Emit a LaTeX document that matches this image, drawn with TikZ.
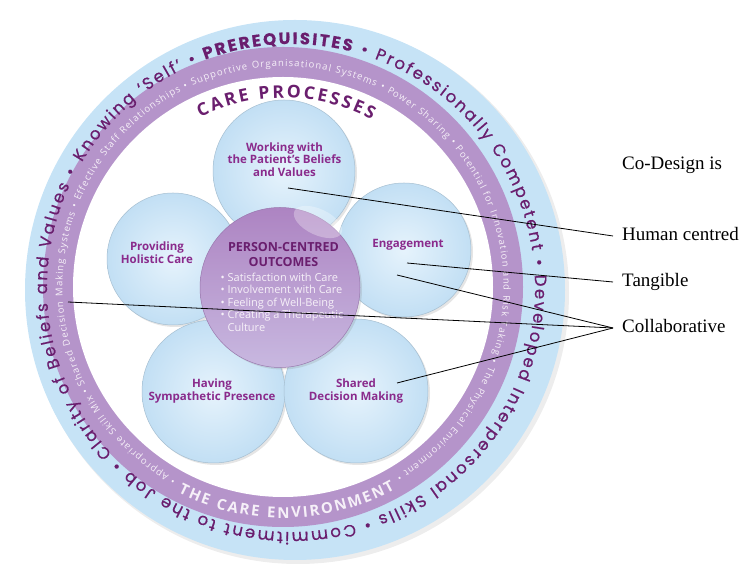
\documentclass[tikz,border=0pt]{standalone}
\usepackage{fontspec}
\setmainfont{Liberation Serif}
\newfontfamily\ringfont[FakeBold=0.6]{Poppins}
\newfontfamily\procfont{Open Sans}
\usepackage{xcolor}
\usepackage{tikz}
\usetikzlibrary{decorations.text, shadows, positioning}

\definecolor{ringblue}{HTML}{C6E3F6}
\definecolor{ringpurple}{HTML}{B594CA}
\definecolor{bubbleblue}{HTML}{C2DFF4}
\definecolor{bubblelight}{HTML}{E6F3FC}
\definecolor{bubbleedge}{HTML}{A6BFD1}
\definecolor{centrepurple}{HTML}{AD84C2}
\definecolor{centrelight}{HTML}{C8B8E0}
\definecolor{centreedge}{HTML}{9A78AE}
\definecolor{procpurple}{HTML}{8A2B8C}
\definecolor{darkpurple}{HTML}{6A1E6E}
\definecolor{palewhite}{HTML}{F6F0F8}

\begin{document}
\begin{tikzpicture}[x=1pt, y=1pt, node distance=46pt]
    \tikzstyle{bubble} = [draw=bubbleedge, circle, line width=0.5pt, inner color=bubblelight, outer color=bubbleblue, drop shadow={opacity=0.2, shadow xshift=2pt, shadow yshift=-2pt}]
    \tikzstyle{proc} = [text=procpurple, align=center, font=\procfont\bfseries\fontsize{11.5}{12.5}\selectfont]
    \tikzstyle{codesign} = [anchor=west, inner xsep=9pt, text height=13pt, text depth=4pt, font=\fontsize{19}{22}\selectfont]
    \tikzstyle{link} = [black, line width=0.8pt]
    \tikzstyle{ringtext} = [decorate, decoration={text along path, text align=fit to path, text color=darkpurple}]
    \tikzstyle{bandtext} = [decorate, decoration={text along path, text align=fit to path, text color=palewhite}]

    \useasboundingbox (0,0) rectangle (740,567);
    \coordinate (rim) at (295,277);
    \coordinate (band) at (283,280);
    \coordinate (rimtext) at (291,279);

    \fill[black!7] ([shift={(3,-3)}]rim) circle (271pt);
    \fill[ringblue] (rim) circle (270pt);
    \fill[ringpurple] (band) circle (240pt);
    \fill[white] (band) circle (210pt);

    \path[ringtext, decoration={text={|\ringfont\fontsize{16.5}{16.5}\selectfont|Knowing ‘Self’ • |\ringfont\bfseries\fontsize{16.5}{16.5}\selectfont|PREREQUISITES|\ringfont\fontsize{16.5}{16.5}\selectfont| • Professionally Competent • Developed Interpersonal Skills • Commitment to the Job • Clarity of Beliefs and Values •}}]
        ([shift={(149:244pt)}]rimtext) arc[start angle=149, end angle=-208.5, radius=244pt];
    \path[bandtext, decoration={text={|\procfont\fontsize{9.5}{9.5}\selectfont|• Appropriate Skill Mix • Shared Decision Making Systems • Effective Staff Relationships • Supportive Organisational Systems • Power Sharing • Potential for Innovation and Risk Taking • The Physical Environment •}}]
        ([shift={(241:220.5pt)}]band) arc[start angle=241, end angle=-59, radius=220.5pt];
    \path[bandtext, decoration={text={|\procfont\bfseries\fontsize{15}{15}\selectfont|THE CARE ENVIRONMENT}}]
        ([shift={(-117:231pt)}]band) arc[start angle=-117, end angle=-61, radius=231pt];
    \path[ringtext, decoration={text={|\procfont\bfseries\fontsize{17.5}{17.5}\selectfont|CARE PROCESSES}}]
        ([shift={(116:189pt)}]band) arc[start angle=116, end angle=62, radius=189pt];

    \node[bubble, minimum size=142pt] (values) at (284,396) {};
    \node[bubble, minimum size=132pt] (holistic) at (173,308) {};
    \node[bubble, minimum size=134pt] (engagement) at (404,317) {};
    \node[bubble, minimum size=143pt] (presence) at (213.5,175.5) {};
    \node[bubble, minimum size=144pt] (shared) at (356,176) {};
    \node[circle, minimum size=160pt, draw=centreedge, line width=0.5pt, top color=centrepurple, bottom color=centrelight, drop shadow={opacity=0.2, shadow xshift=2pt, shadow yshift=-2pt}] (outcomes) at (280,279.5) {};
    \fill[white, opacity=0.3, rotate around={-25:(318,345)}] (318,345) ellipse (26pt and 13pt);

    \node[proc] (valuestext) at (284.5,407.5) {Working with\\the Patient’s Beliefs\\and Values};
    \node[proc] (holistictext) at (157,314.5) {Providing\\Holistic Care};
    \node[proc] (engagementtext) at (408,322) {Engagement};
    \node[proc] (presencetext) at (212,176) {Having\\Sympathetic Presence};
    \node[proc] (sharedtext) at (356,176) {Shared\\Decision Making};
    \node[text=darkpurple, align=center, font=\procfont\bfseries\fontsize{12.5}{15}\selectfont] (outcomestitle) at (283.5,312.5) {PERSON-CENTRED\\OUTCOMES};
    \node[text=palewhite, align=left, font=\procfont\fontsize{11}{12.5}\selectfont] (outcomeslist) at (282,265) {• Satisfaction with Care\\• Involvement with Care\\• Feeling of Well-Being\\• Creating a Therapeutic\\\phantom{• }Culture};

    \node[codesign] (human) at (613,331) {Human centred};
    \node[codesign, above=70.5pt of human.west, anchor=west] (codesignis) {Co-Design is};
    \node[codesign, below=of human.west, anchor=west] (tangible) {Tangible};
    \node[codesign, below=of tangible.west, anchor=west] (collab) {Collaborative};

    \coordinate (humanfoot) at (288,379);
    \coordinate (tangiblefoot) at (407,304);
    \coordinate (collabfoot1) at (397,292);
    \coordinate (collabfoot2) at (68,265);
    \coordinate (collabfoot3) at (397,184);

    \draw[link] (humanfoot) -- (human.west);
    \draw[link] (tangiblefoot) -- (tangible.west);
    \draw[link] (collabfoot1) -- (collab.west);
    \draw[link] (collabfoot2) -- (collab.west);
    \draw[link] (collabfoot3) -- (collab.west);
\end{tikzpicture}
\end{document}
